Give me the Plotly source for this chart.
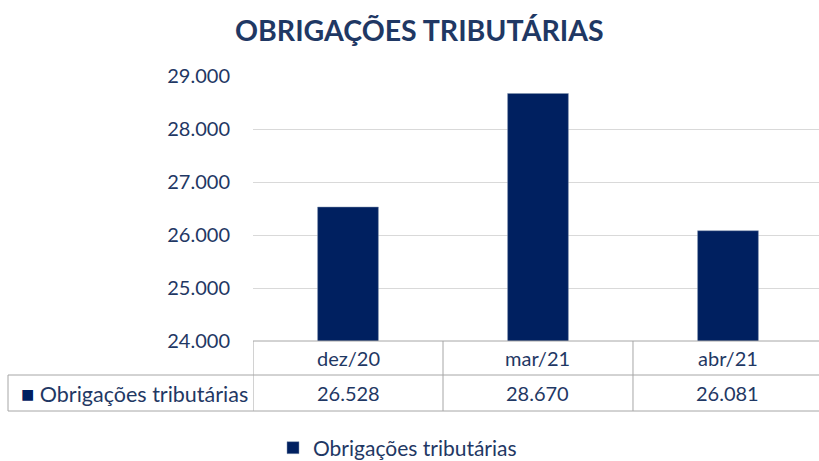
import plotly.graph_objects as go

categories = ["dez/20", "mar/21", "abr/21"]
values = [26528, 28670, 26081]
series_name = "Obrigações tributárias"
title_text = "OBRIGAÇÕES TRIBUTÁRIAS"
y_ticks = [24000, 25000, 26000, 27000, 28000, 29000]

NAVY = "#002060"
TEXT = "#1F3864"
GRID = "#D9D9D9"
BORDER = "#A6A6A6"
FONT = "Lato, 'Open Sans', sans-serif"
FS = 20

W, H = 819, 461
ML, MR, MT, MB = 253, 0, 76, 120
plot_h = H - MT - MB
plot_w = W - ML - MR


def py(pix_y):
    """pixel y (from top) -> paper y"""
    return (H - MB - pix_y) / plot_h


def px(pix_x):
    return (pix_x - ML) / plot_w


fig = go.Figure()
fig.add_trace(go.Bar(
    x=categories, y=values, name=series_name,
    marker=dict(color=NAVY, line=dict(color="#8497B0", width=0.5)),
    width=0.32,
))

fig.update_layout(
    width=W, height=H,
    margin=dict(l=ML, r=MR, t=MT, b=MB, autoexpand=False),
    paper_bgcolor="white", plot_bgcolor="white",
    separators=",.",
    font=dict(family=FONT, color=TEXT, size=FS),
    title=dict(text="<b>" + title_text + "</b>", x=0.512, xanchor="center",
               y=1 - 31 / H, yanchor="middle",
               font=dict(size=28.5, color=TEXT, family=FONT)),
    showlegend=True,
    legend=dict(orientation="h", x=px(273), xanchor="left", y=py(448), yanchor="middle",
                font=dict(size=21, color=TEXT, family=FONT), itemwidth=30,
                bgcolor="rgba(0,0,0,0)"),
)
fig.update_xaxes(range=[-0.5, 2.479], showticklabels=False, showgrid=False,
                 zeroline=False, showline=False, fixedrange=True)
fig.update_yaxes(range=[24000, 29000], tickvals=y_ticks, tickformat=",",
                 showgrid=True, gridcolor=GRID, gridwidth=1, zeroline=False,
                 showline=False, ticks="", ticklabelstandoff=22, automargin=False,
                 tickfont=dict(size=FS, color=TEXT, family=FONT))

shapes = []
y_top, y_mid, y_bot = 341, 375, 411
# horizontal lines
shapes.append(dict(type="line", xref="paper", yref="paper", x0=0, x1=1,
                   y0=py(y_top), y1=py(y_top), line=dict(color=BORDER, width=1)))
for yy in (y_mid, y_bot):
    shapes.append(dict(type="line", xref="paper", yref="paper", x0=px(8), x1=1,
                       y0=py(yy), y1=py(yy), line=dict(color=BORDER, width=1)))
# vertical lines
shapes.append(dict(type="line", xref="paper", yref="paper", x0=px(8), x1=px(8),
                   y0=py(y_mid), y1=py(y_bot), line=dict(color=BORDER, width=1)))
for i in range(len(categories)):
    shapes.append(dict(type="line", xref="x", yref="paper", x0=i - 0.5, x1=i - 0.5,
                       y0=py(y_top), y1=py(y_bot), line=dict(color=BORDER, width=1)))

annotations = []
for i, (c, v) in enumerate(zip(categories, values)):
    annotations.append(dict(x=c, y=py((y_top + y_mid) / 2), xref="x", yref="paper",
                            text=c, showarrow=False, yanchor="middle",
                            font=dict(size=FS, color=TEXT, family=FONT)))
    annotations.append(dict(x=c, y=py((y_mid + y_bot) / 2), xref="x", yref="paper",
                            text=f"{v:,}".replace(",", "."), showarrow=False, yanchor="middle",
                            font=dict(size=FS, color=TEXT, family=FONT)))
annotations.append(dict(x=px(19), y=py((y_mid + y_bot) / 2), xref="paper", yref="paper",
                        xanchor="left", yanchor="middle", showarrow=False,
                        text=f"<span style='color:{NAVY};font-size:22px'>■</span> " + series_name,
                        font=dict(size=21.5, color=TEXT, family=FONT)))

fig.update_layout(shapes=shapes, annotations=annotations)
fig.write_html("out.html", post_script="document.body.style.margin='0';",
               config={"displayModeBar": False})
